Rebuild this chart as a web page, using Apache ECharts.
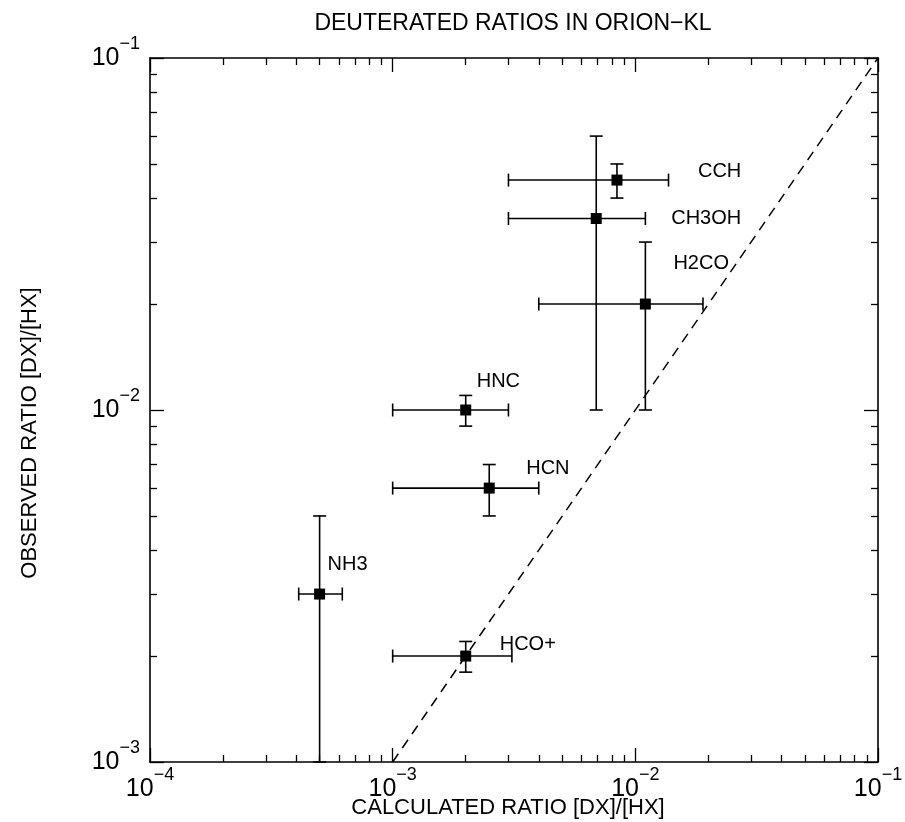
<!DOCTYPE html>
<html><head><meta charset="utf-8">
<script src="https://cdn.jsdelivr.net/npm/echarts@6/dist/echarts.min.js"></script>
<style>html,body{margin:0;padding:0;background:#fff}#c{width:905px;height:822px}</style>
</head><body><div id="c"></div>
<script>
// ---- data ----
const molecules = ['CCH', 'CH3OH', 'H2CO', 'HNC', 'HCN', 'NH3', 'HCO+'];
const calcRatio = [8.4e-3, 6.9e-3, 1.1e-2, 2.0e-3, 2.5e-3, 5.0e-4, 2.0e-3];
const calcLow   = [3.0e-3, 3.0e-3, 4.0e-3, 1.0e-3, 1.0e-3, 4.1e-4, 1.0e-3];
const calcHigh  = [1.37e-2, 1.1e-2, 1.9e-2, 3.0e-3, 4.0e-3, 6.2e-4, 3.1e-3];
const obsRatio  = [0.045, 0.035, 0.020, 0.010, 0.006, 0.003, 0.002];
const obsLow    = [0.040, 0.010, 0.010, 0.009, 0.005, 0.001, 0.0018];
const obsHigh   = [0.050, 0.060, 0.030, 0.011, 0.007, 0.005, 0.0022];
const equalityLine = [[1e-3, 1e-3], [1e-1, 1e-1]];
const xTickLabels = [1e-4, 1e-3, 1e-2, 1e-1];
const yTickLabels = [1e-3, 1e-2, 1e-1];

// ---- styling ----
const labelOffsets = [[81, -9], [75, 0], [28, -41], [11, -29], [37, -20], [8, -30], [34, -12]];
const FONT = 'Liberation Sans, Arial, Helvetica, sans-serif';

function minorTicks(decades) {
  const out = [];
  decades.forEach(d => { for (let k = 2; k <= 9; k++) out.push(k * d); });
  return out;
}
const xMinor = minorTicks(xTickLabels.slice(0, -1));
const yMinor = minorTicks(yTickLabels.slice(0, -1));

const supFmt = v => {
  const e = Math.round(Math.log10(v));
  return '{b|10}{s|' + (e < 0 ? '\u2212' : '') + Math.abs(e) + '}';
};
const rich = {
  b: { fontSize: 25, lineHeight: 46, fontFamily: FONT, color: '#000' },
  s: { fontSize: 18, lineHeight: 18, verticalAlign: 'top', fontFamily: FONT, color: '#000' }
};
const axLine = { show: true, lineStyle: { color: '#000', width: 1.6 } };

function mkAxis(kind, pos, extent, majors, minors, isMinor, withLabels) {
  return {
    type: 'log', logBase: 10, min: extent[0], max: extent[1], position: pos,
    gridIndex: 0,
    axisLine: isMinor ? { show: false } : axLine,
    axisTick: {
      show: true, inside: true, length: isMinor ? 7 : 14,
      customValues: isMinor ? minors : majors,
      lineStyle: { color: '#000', width: 1.3 }
    },
    minorTick: { show: false },
    splitLine: { show: false },
    axisLabel: withLabels ? {
      show: true, customValues: majors, formatter: supFmt, rich: rich,
      margin: kind === 'x' ? 4 : 10
    } : { show: false }
  };
}

const xExt = [1e-4, 1e-1], yExt = [1e-3, 1e-1];
const option = {
  animation: false,
  backgroundColor: '#fff',
  grid: { left: 150, top: 58, right: 27, bottom: 60, outerBoundsMode: 'none' },
  xAxis: [
    mkAxis('x', 'bottom', xExt, xTickLabels, xMinor, false, true),
    mkAxis('x', 'bottom', xExt, xTickLabels, xMinor, true, false),
    mkAxis('x', 'top', xExt, xTickLabels, xMinor, false, false),
    mkAxis('x', 'top', xExt, xTickLabels, xMinor, true, false)
  ],
  yAxis: [
    mkAxis('y', 'left', yExt, yTickLabels, yMinor, false, true),
    mkAxis('y', 'left', yExt, yTickLabels, yMinor, true, false),
    mkAxis('y', 'right', yExt, yTickLabels, yMinor, false, false),
    mkAxis('y', 'right', yExt, yTickLabels, yMinor, true, false)
  ],
  graphic: [
    { type: 'text', x: 513, y: 24, style: { text: 'DEUTERATED RATIOS IN ORION\u2212KL', font: '23px ' + FONT, fill: '#000', textAlign: 'center', textVerticalAlign: 'middle' } },
    { type: 'text', x: 508, y: 808, style: { text: 'CALCULATED RATIO [DX]/[HX]', font: '22px ' + FONT, fill: '#000', textAlign: 'center', textVerticalAlign: 'middle' } },
    { type: 'text', x: 30, y: 433, rotation: Math.PI / 2, style: { text: 'OBSERVED RATIO [DX]/[HX]', font: '22px ' + FONT, fill: '#000', textAlign: 'center', textVerticalAlign: 'middle' } }
  ],
  series: [
    {
      type: 'line', xAxisIndex: 0, yAxisIndex: 0, data: equalityLine, symbol: 'none',
      lineStyle: { color: '#000', width: 1.5, type: [10, 7] }, silent: true
    },
    {
      type: 'custom', xAxisIndex: 0, yAxisIndex: 0,
      data: molecules.map((m, i) => [calcRatio[i], obsRatio[i], calcLow[i], calcHigh[i], obsLow[i], obsHigh[i]]),
      encode: { x: 0, y: 1 },
      renderItem: function (params, api) {
        const x = api.value(0), y = api.value(1);
        const pL = api.coord([api.value(2), y]), pH = api.coord([api.value(3), y]);
        const pB = api.coord([x, api.value(4)]), pT = api.coord([x, api.value(5)]);
        const c = 6.5;
        const style = { stroke: '#000', lineWidth: 1.6 };
        const segs = [
          [pL, pH], [[pL[0], pL[1] - c], [pL[0], pL[1] + c]], [[pH[0], pH[1] - c], [pH[0], pH[1] + c]],
          [pB, pT], [[pB[0] - c, pB[1]], [pB[0] + c, pB[1]]], [[pT[0] - c, pT[1]], [pT[0] + c, pT[1]]]
        ];
        return {
          type: 'group',
          children: segs.map(s => ({ type: 'line', shape: { x1: s[0][0], y1: s[0][1], x2: s[1][0], y2: s[1][1] }, style: style }))
        };
      },
      z: 3
    },
    {
      type: 'scatter', xAxisIndex: 0, yAxisIndex: 0,
      symbol: 'rect', symbolSize: 11, itemStyle: { color: '#000', opacity: 1 },
      data: molecules.map((m, i) => ({
        value: [calcRatio[i], obsRatio[i]],
        name: m,
        label: { offset: labelOffsets[i] }
      })),
      label: {
        show: true, position: 'inside', align: 'left', verticalAlign: 'middle',
        formatter: p => p.name, color: '#000', fontSize: 20, fontFamily: FONT,
        textBorderWidth: 0
      },
      z: 4
    }
  ]
};
const chart = echarts.init(document.getElementById('c'), null, { renderer: 'canvas' });
chart.setOption(option);
</script>
</body></html>
